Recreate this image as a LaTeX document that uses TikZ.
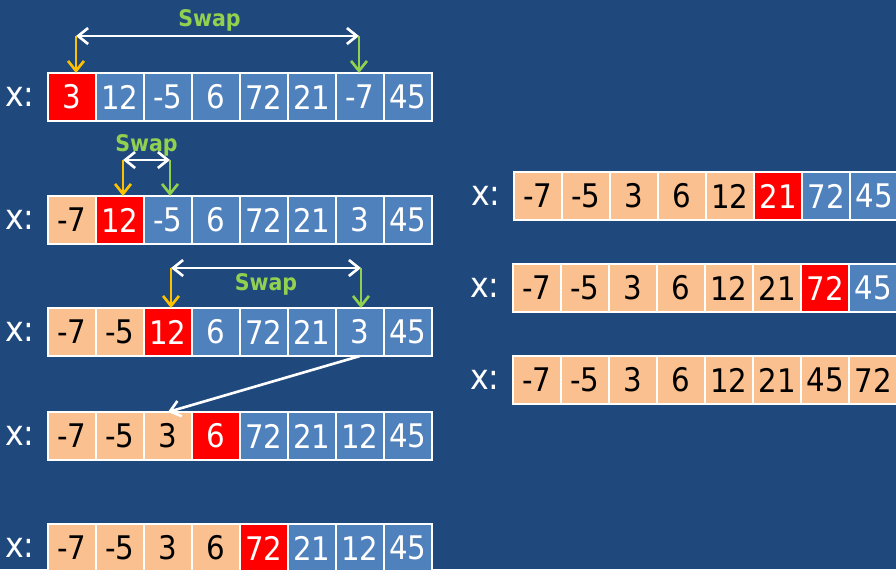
\documentclass[tikz,border=0pt]{standalone}
\usepackage{fontspec}
\setmainfont{DejaVu Sans Condensed}
\usetikzlibrary{arrows.meta, positioning, calc}
\definecolor{cbg}{HTML}{1F497D}
\definecolor{cblue}{HTML}{4F81BD}
\definecolor{cpeach}{HTML}{FAC090}
\definecolor{cred}{HTML}{FF0000}
\definecolor{cgreen}{HTML}{92D050}
\definecolor{corange}{HTML}{FFC000}
\tikzset{
  every picture/.style={font=\fontsize{18.5}{22}\selectfont},
  cell/.style={draw=white, line width=0.6pt, minimum width=0.96cm, minimum height=0.96cm, inner sep=0pt, outer sep=0pt},
  srt/.style={cell, fill=cpeach, text=black},
  piv/.style={cell, fill=cred, text=white},
  uns/.style={cell, fill=cblue, text=white},
  lbl/.style={text=white, inner sep=0pt, font=\fontsize{20}{24}\selectfont},
  swaparrow/.style={{Straight Barb[length=2mm, width=3.2mm]}-{Straight Barb[length=2mm, width=3.2mm]}, draw=white, line width=1.5pt},
  pick/.style={-{Straight Barb[length=2mm, width=3.2mm]}, draw=#1, line width=1.5pt},
  swaplbl/.style={font=\fontsize{13}{15}\selectfont\bfseries, text=cgreen, inner sep=1pt},
}
\begin{document}
\begin{tikzpicture}[x=0.02cm, y=-0.02cm]
  \fill[cbg] (0,0) rectangle (896,569);
  \useasboundingbox (0,0) rectangle (896,569);
  \foreach \n/\x/\y/\cells in {
    r1/48/97/{3/piv,12/uns,-5/uns,6/uns,72/uns,21/uns,-7/uns,45/uns},
    r2/48/220/{-7/srt,12/piv,-5/uns,6/uns,72/uns,21/uns,3/uns,45/uns},
    r3/48/332/{-7/srt,-5/srt,12/piv,6/uns,72/uns,21/uns,3/uns,45/uns},
    r4/48/436/{-7/srt,-5/srt,3/srt,6/piv,72/uns,21/uns,12/uns,45/uns},
    r5/48/548/{-7/srt,-5/srt,3/srt,6/srt,72/piv,21/uns,12/uns,45/uns},
    q1/514/196/{-7/srt,-5/srt,3/srt,6/srt,12/srt,21/piv,72/uns,45/uns},
    q2/513/288/{-7/srt,-5/srt,3/srt,6/srt,12/srt,21/srt,72/piv,45/uns},
    q3/513/380/{-7/srt,-5/srt,3/srt,6/srt,12/srt,21/srt,45/srt,72/srt}} {
    \foreach \v/\s [count=\k] in \cells
      \node[\s] (\n-\k) at ({\x+48*\k-24},\y) {\v};
    \node[lbl, left=0.26cm of \n-1] (\n-x) {x:};
  }
  % swaps
  \coordinate (a1) at ([xshift=0.08cm, yshift=0.74cm]r1-1.north);
  \coordinate (b1) at ([xshift=-0.02cm, yshift=0.74cm]r1-7.north);
  \draw[swaparrow] (a1) -- node[swaplbl, above=0.04cm, xshift=-0.16cm] (s1) {Swap} (b1);
  \draw[pick=corange] (a1) -- (r1-1.north -| a1);
  \draw[pick=cgreen] (b1) -- (r1-7.north -| b1);
  \coordinate (a2) at ([xshift=0.06cm, yshift=0.72cm]r2-2.north);
  \coordinate (b2) at ([xshift=0.04cm, yshift=0.72cm]r2-3.north);
  \draw[swaparrow] (a2) -- node[swaplbl, above=0.02cm] (s2) {Swap} (b2);
  \draw[pick=corange] (a2) -- (r2-2.north -| a2);
  \draw[pick=cgreen] (b2) -- (r2-3.north -| b2);
  \coordinate (a3) at ([xshift=0.06cm, yshift=0.8cm]r3-3.north);
  \coordinate (b3) at ([xshift=0.02cm, yshift=0.8cm]r3-7.north);
  \draw[swaparrow] (a3) -- node[swaplbl, below=0.04cm] (s3) {Swap} (b3);
  \draw[pick=corange] (a3) -- (r3-3.north -| a3);
  \draw[pick=cgreen] (b3) -- (r3-7.north -| b3);
  \draw[pick=white] (r3-7.south) -- (r4-3.north);
\end{tikzpicture}
\end{document}
